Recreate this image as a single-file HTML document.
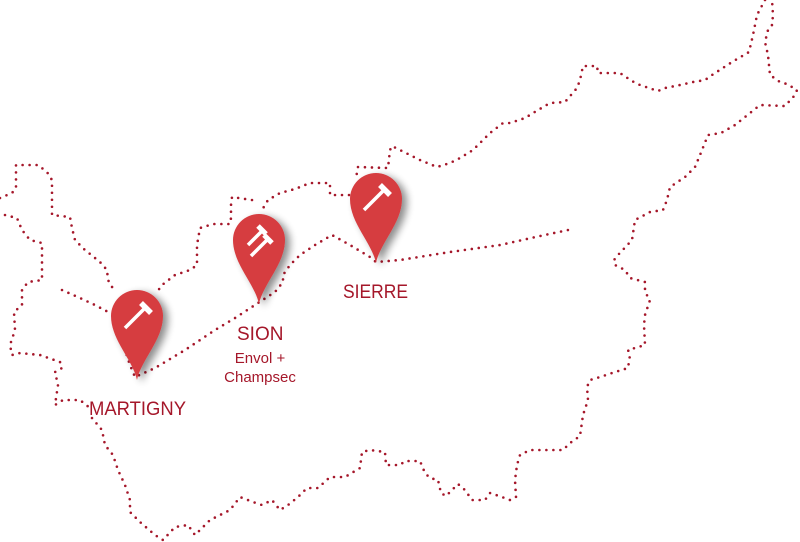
<!DOCTYPE html>
<html><head><meta charset="utf-8"><style>
html,body{margin:0;padding:0;background:#fff;width:800px;height:542px;overflow:hidden}
svg{display:block}
text{font-family:"Liberation Sans",sans-serif;fill:#a5172a}
</style></head><body>
<svg width="800" height="542" viewBox="0 0 800 542" xmlns="http://www.w3.org/2000/svg">
<defs>
<filter id="sh" x="-50%" y="-50%" width="200%" height="200%"><feGaussianBlur in="SourceAlpha" stdDeviation="4"/><feOffset dx="5" dy="3"/><feComponentTransfer><feFuncA type="linear" slope="0.45"/></feComponentTransfer><feMerge><feMergeNode/><feMergeNode in="SourceGraphic"/></feMerge></filter>
</defs>
<g fill="none" stroke="#a5172a" stroke-width="2.6" stroke-linecap="round" stroke-dasharray="0 7">
<polyline points="0,198 12,193 16,188 16,165 38,165 47,172 52,180 52,215 70,217 72,228 75,240 85,250 100,262 107,270 108,280 115,292"/>
<polyline points="5,215 17,218 22,230 30,240 42,243 42,280 28,282 22,290 22,305 14,312 15,330 10,345 12,355 20,353 40,355 60,362 62,368 55,372 58,385 55,405 63,400 80,400 90,408"/>
<polyline points="92,418 102,430 105,445 113,455 118,470 125,485 130,500 130,512 140,522 155,535 163,540 175,527 188,525 195,535 210,520 230,510 240,497 253,502 262,505 272,500 280,510 288,505 298,497 307,488 318,488 330,477 345,477 360,468 362,452 370,450 385,452 386,465 400,465 405,461 420,461 425,473 430,478 438,480 441,493 446,496 458,484 465,490 472,500 485,500 490,493 502,497 510,500 516,497 515,480 517,465 520,455 530,450 563,450 570,443 580,436 583,415 588,400 587,387 590,380 600,377 615,372 628,368 630,355 628,350 645,345 644,325 645,315 650,300 645,292 645,282 630,278 625,270 615,265 614,260 618,255 632,240 635,220 650,212 663,210 667,200 670,187 685,177 695,167 700,155 708,135 721,133 735,125 760,105 785,106 795,95 797,90 787,84 780,82 770,75 768,55 765,42 768,30 772,25 773,15 772,0"/>
<polyline points="765,0 757,15 753,35 749,52 732,62 712,75 705,80 693,82 680,85 665,88 658,91 640,85 632,81 620,73 598,73 597,66 583,66 580,80 577,88 565,102 550,103 538,110 525,118 510,123 503,123 490,133 473,150 460,158 450,163 437,167 420,160 400,150 392,146 390,150 388,168 358,167 356,178"/>
<polyline points="356,195 330,195 330,183 310,183 295,189 280,193 268,200 262,210"/>
<polyline points="252,200 232,197 231,205 231,218 230,224 213,224 200,228 197,245 197,265 190,270 175,275 162,285 157,292"/>
<polyline points="62,290 80,298 95,305 112,314"/>
<polyline points="120,335 125,350 130,365 135,377 155,368 185,350 215,330 235,318 258,303 275,292 283,282 283,275 290,265 300,255 315,245 332,235 350,245 370,257 376,262 400,260 450,252 500,245 540,236 568,230"/>
</g>
<g fill="#d63c41" filter="url(#sh)">
<path d="M137,380 C133,360 111,340 111,316 A26,26 0 1 1 163,316 C163,340 141,360 137,380 Z"/>
<path d="M259,304 C255,284 233,264 233,240 A26,26 0 1 1 285,240 C285,264 263,284 259,304 Z"/>
<path d="M376,263 C372,243 350,223 350,199 A26,26 0 1 1 402,199 C402,223 380,243 376,263 Z"/>
</g>
<g stroke="#fff" fill="none">
<line x1="125" y1="328" x2="144" y2="309" stroke-width="3.5"/>
<line x1="141" y1="303" x2="151" y2="313" stroke-width="5.5"/>
<line x1="364" y1="210" x2="383" y2="191" stroke-width="3.5"/>
<line x1="380" y1="185" x2="390" y2="195" stroke-width="5.5"/>
<line x1="251" y1="256" x2="267" y2="240" stroke-width="3.5"/>
<line x1="264" y1="235" x2="272" y2="243" stroke-width="5"/>
<line x1="248" y1="245" x2="261" y2="232" stroke-width="3.5"/>
<line x1="258" y1="226" x2="266" y2="234" stroke-width="5"/>
</g>
<text x="89" y="415" font-size="19" textLength="97" lengthAdjust="spacingAndGlyphs">MARTIGNY</text>
<text x="237" y="340" font-size="19">SION</text>
<text x="260" y="363" font-size="15" text-anchor="middle">Envol +</text>
<text x="260" y="382" font-size="15" text-anchor="middle">Champsec</text>
<text x="343" y="298" font-size="19" textLength="65" lengthAdjust="spacingAndGlyphs">SIERRE</text>
</svg>
</body></html>
